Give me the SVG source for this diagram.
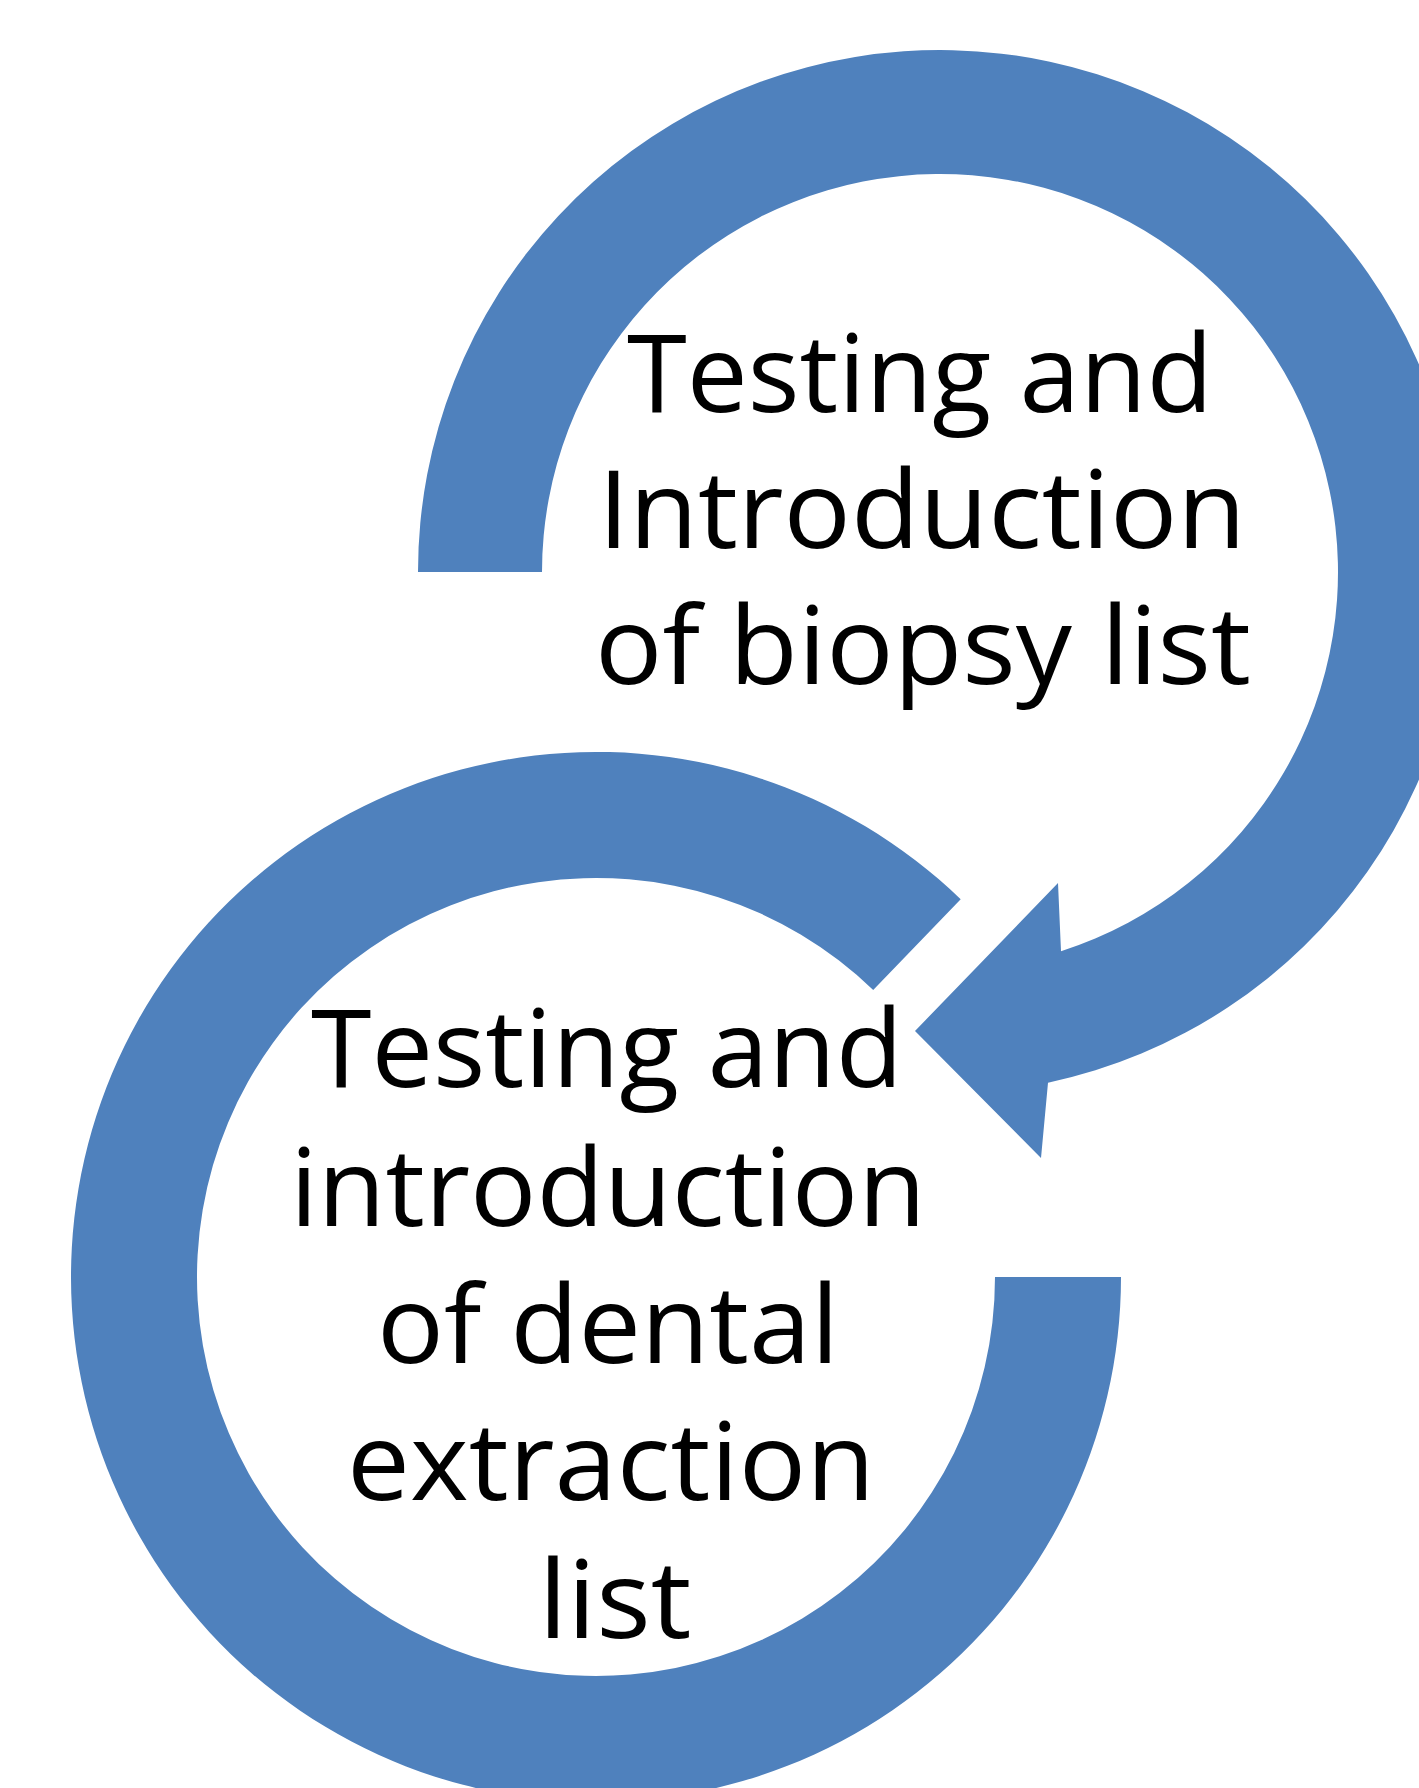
<svg xmlns="http://www.w3.org/2000/svg" width="1419" height="1788" viewBox="0 0 1419 1788">
  <style>
    .ring { fill: #4F81BD; stroke: none; }
    .lbl { font-family: "Open Sans", "Liberation Sans", sans-serif; font-size: 108px; fill: #000; text-anchor: middle; }
  </style>
  <rect x="0" y="0" width="1419" height="1788" fill="#fff"/>
  <g id="connectors">
    <path id="arrow-top" class="ring" d="M 418 572 A 522 522 0 1 1 1048 1082.7 L 1041 1158 L 915 1031 L 1058 883 L 1061 951.2 A 398 398 0 1 0 542 572 Z"/>
    <path id="arrow-bottom" class="ring" d="M 1121 1277 A 525 525 0 1 1 960.7 899.3 L 873.2 990 A 399 399 0 1 0 995 1277 Z"/>
  </g>
  <g id="node-biopsy">
    <text class="lbl" x="920" y="412" textLength="586" lengthAdjust="spacingAndGlyphs">Testing and</text>
    <text class="lbl" x="922" y="548" textLength="648" lengthAdjust="spacingAndGlyphs">Introduction</text>
    <text class="lbl" x="923" y="684" textLength="656" lengthAdjust="spacingAndGlyphs">of biopsy list</text>
  </g>
  <g id="node-dental">
    <text class="lbl" x="607" y="1087" textLength="592" lengthAdjust="spacingAndGlyphs">Testing and</text>
    <text class="lbl" x="608" y="1226" textLength="636" lengthAdjust="spacingAndGlyphs">introduction</text>
    <text class="lbl" x="608" y="1363" textLength="462" lengthAdjust="spacingAndGlyphs">of dental</text>
    <text class="lbl" x="611" y="1500" textLength="528" lengthAdjust="spacingAndGlyphs">extraction</text>
    <text class="lbl" x="615" y="1638" textLength="153" lengthAdjust="spacingAndGlyphs">list</text>
  </g>
</svg>
